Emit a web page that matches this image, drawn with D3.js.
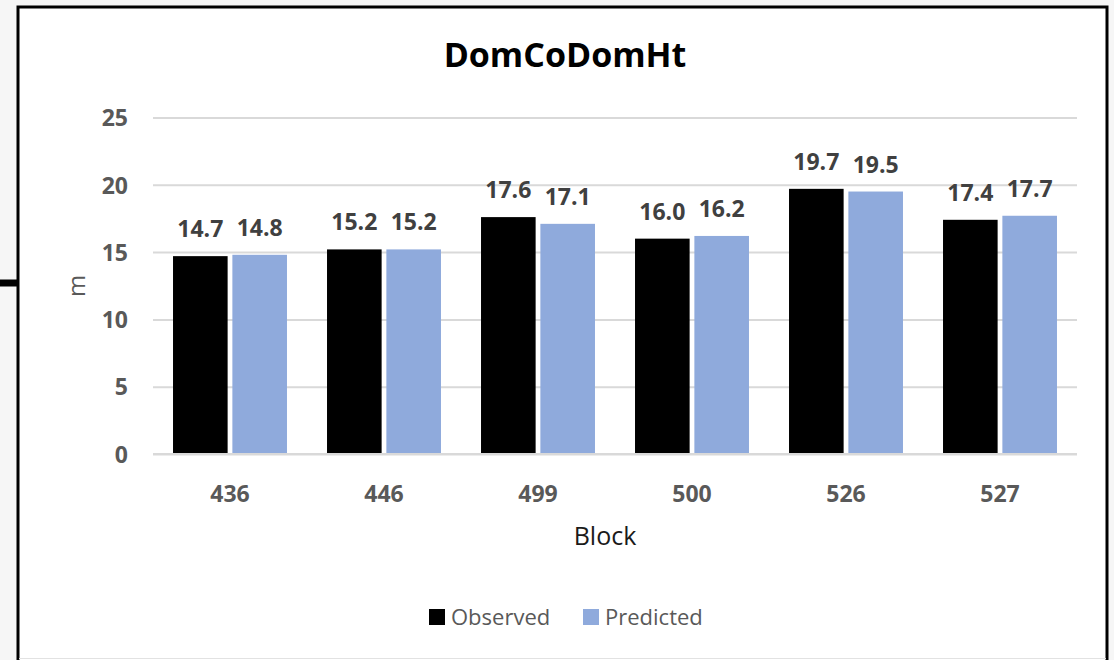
<!DOCTYPE html>
<html><head><meta charset="utf-8">
<script src="https://cdn.jsdelivr.net/npm/d3@7/dist/d3.min.js"></script>
<style>html,body{margin:0;padding:0;background:#f6f6f6;}svg{display:block;}</style>
</head><body>
<script>
const categories = ["436","446","499","500","526","527"];
const seriesNames = ["Observed","Predicted"];
const observed = [14.7,15.2,17.6,16.0,19.7,17.4];
const predicted = [14.8,15.2,17.1,16.2,19.5,17.7];
const yTicks = [0,5,10,15,20,25];
const colors = {Observed:"#000000", Predicted:"#8faadc"};
const values = {Observed: observed, Predicted: predicted};

const W=1114,H=660;
const svg=d3.select("body").append("svg").attr("width",W).attr("height",H);
const font="'Open Sans', 'Noto Sans', sans-serif";

// frame
svg.append("rect").attr("x",18).attr("y",7).attr("width",1089).attr("height",660).attr("fill","#fff");
svg.append("line").attr("x1",0).attr("x2",18).attr("y1",283).attr("y2",283).attr("stroke","#000").attr("stroke-width",7);
svg.append("path").attr("d","M18,670 L18,7 L1107,7 L1107,670").attr("fill","none").attr("stroke","#000").attr("stroke-width",3);
svg.append("line").attr("x1",19).attr("x2",1106).attr("y1",658.5).attr("y2",658.5).attr("stroke","#e2e2e2").attr("stroke-width",1);

const x0=d3.scaleBand().domain(categories).range([153,1077]).paddingInner(0.26).paddingOuter(0.13);
const x1=d3.scaleBand().domain(seriesNames).range([0,x0.bandwidth()]).paddingInner(0.08);
const y=d3.scaleLinear().domain([0,25]).range([454,117.5]);

// gridlines
const yAxis=d3.axisLeft(y).tickValues(yTicks).tickSize(-(1077-153)).tickPadding(25);
const gy=svg.append("g").attr("transform","translate(153,0)").call(yAxis);
gy.select(".domain").remove();
gy.selectAll(".tick line").attr("stroke","#d9d9d9").attr("stroke-width",2);
gy.selectAll(".tick text").attr("fill","#595959").attr("font-family",font).attr("font-weight","bold").attr("font-size","23px").attr("dy","0.36em");

// bars
const groups=svg.append("g").selectAll("g").data(categories).join("g").attr("transform",c=>`translate(${x0(c)},0)`);
groups.selectAll("rect").data((c,i)=>seriesNames.map(s=>({s,v:values[s][i]}))).join("rect")
  .attr("x",d=>x1(d.s)).attr("width",x1.bandwidth())
  .attr("y",d=>y(d.v)).attr("height",d=>y(0)-y(d.v)).attr("fill",d=>colors[d.s]);
groups.selectAll("text").data((c,i)=>seriesNames.map(s=>({s,v:values[s][i]}))).join("text")
  .attr("x",d=>x1(d.s)+x1.bandwidth()/2).attr("y",d=>y(d.v)-19)
  .attr("text-anchor","middle").attr("fill","#404040").attr("font-family",font).attr("font-weight","bold").attr("font-size","23px")
  .text(d=>d.v.toFixed(1));

// x axis
const xAxis=d3.axisBottom(x0).tickSize(0).tickPadding(0);
const gx=svg.append("g").attr("transform","translate(0,454)").call(xAxis);
gx.select(".domain").attr("stroke","#d9d9d9").attr("stroke-width",2).attr("d","M153,0H1077");
gx.selectAll(".tick text").attr("fill","#595959").attr("font-family",font).attr("font-weight","bold").attr("font-size","23px").attr("dy",null).attr("y",48);

// title & axis labels
svg.append("text").attr("x",565).attr("y",67).attr("text-anchor","middle").attr("font-family",font).attr("font-weight","bold").attr("font-size","34px").attr("fill","#000").text("DomCoDomHt");
svg.append("text").attr("x",605).attr("y",545).attr("text-anchor","middle").attr("font-family",font).attr("font-size","25px").attr("fill","#1a1a1a").text("Block");
svg.append("text").attr("transform","translate(85,286) rotate(-90)").attr("text-anchor","middle").attr("font-family",font).attr("font-size","24px").attr("fill","#595959").text("m");

// legend
const legendX=[429,583];
const lg=svg.append("g").selectAll("g").data(seriesNames).join("g").attr("transform",(d,i)=>`translate(${legendX[i]},609)`);
lg.append("rect").attr("width",16).attr("height",16).attr("fill",d=>colors[d]);
lg.append("text").attr("x",22).attr("y",16).attr("font-family",font).attr("font-size","22px").attr("fill","#595959").text(d=>d);
</script>
</body></html>
